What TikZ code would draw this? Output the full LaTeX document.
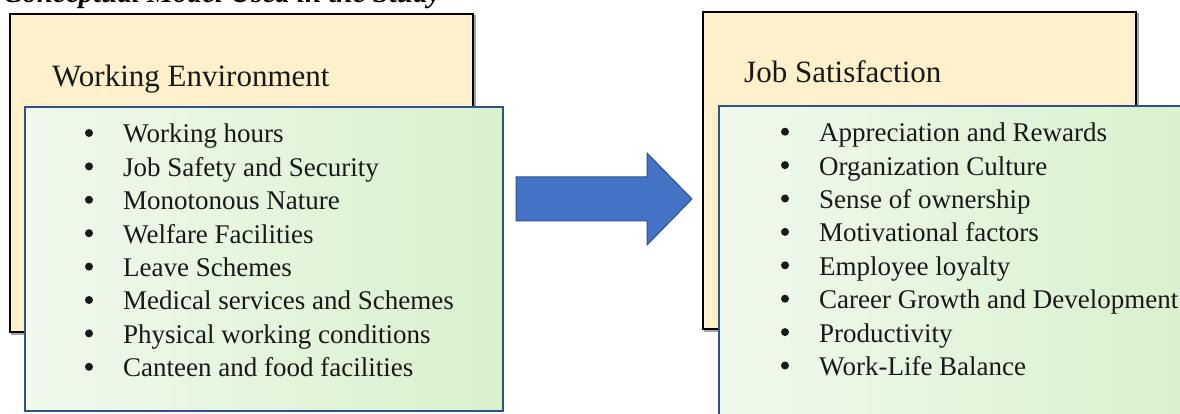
\documentclass[tikz,border=0pt]{standalone}
\usepackage{fontspec}
\setmainfont{Liberation Serif}
\definecolor{tanfill}{HTML}{FFF0CC}
\definecolor{gLight}{HTML}{F0F9EC}
\definecolor{gDark}{HTML}{D8F1CD}
\definecolor{boxblue}{HTML}{2F528F}
\definecolor{arrowblue}{HTML}{4472C4}
\begin{document}
\begin{tikzpicture}[x=1pt,y=1pt,
  tanbox/.style={draw=black,line width=2pt,fill=tanfill,anchor=north west,inner sep=0pt,outer sep=0pt},
  tanshadow/.style={draw=black!35,line width=2pt,anchor=north west,inner sep=0pt,outer sep=0pt},
  greenbox/.style={draw=boxblue,line width=2pt,left color=gLight,right color=gDark,anchor=north west,inner sep=0pt,outer sep=0pt},
  headtext/.style={anchor=base west,inner sep=0pt,text=black!90,font=\fontsize{31}{36}\selectfont},
  itemtext/.style={anchor=base west,inner sep=0pt,text=black!90,font=\fontsize{27}{33}\selectfont},
  bulletdot/.style={circle,fill=black!90,inner sep=0pt,minimum size=8pt},
  bigarrow/.style={fill=arrowblue,draw=boxblue,line width=1pt,line join=miter}
]
\useasboundingbox (0,0) rectangle (1180,414);
\clip (0,0) rectangle (1180,414);
% caption (cut off at top)
\node[anchor=base west,inner sep=0pt,font=\fontsize{29}{34}\selectfont\bfseries\itshape] (cap) at (3,411) {Conceptual Model Used in the Study};
% left group
\node[tanshadow,minimum width=463pt,minimum height=318pt] (lts) at (12,398) {};
\node[tanbox,minimum width=463pt,minimum height=318pt] (lt) at (10,400) {};
\node[headtext] (lh) at (52,327) {Working Environment};
\node[greenbox,minimum width=478pt,minimum height=304pt] (lg) at (25,307) {};
\foreach \t [count=\i] in {Working hours,Job Safety and Security,Monotonous Nature,Welfare Facilities,Leave Schemes,Medical services and Schemes,Physical working conditions,Canteen and food facilities}{
  \node[bulletdot] (lb\i) at (89,{281-33.4*(\i-1)}) {};
  \node[itemtext] (li\i) at (123,{271-33.4*(\i-1)}) {\t};
}
% right group
\node[tanshadow,minimum width=433pt,minimum height=317pt] (rts) at (705,400) {};
\node[tanbox,minimum width=433pt,minimum height=317pt] (rt) at (703,402) {};
\node[headtext] (rh) at (744,331) {Job Satisfaction};
\node[greenbox,minimum width=481pt,minimum height=330pt] (rg) at (719,308) {};
\foreach \t [count=\i] in {Appreciation and Rewards,Organization Culture,Sense of ownership,Motivational factors,Employee loyalty,Career Growth and Development,Productivity,Work-Life Balance}{
  \node[bulletdot] (rb\i) at (785,{282.3-33.4*(\i-1)}) {};
  \node[itemtext] (ri\i) at (819,{272.3-33.4*(\i-1)}) {\t};
}
% block arrow
\draw[bigarrow] (516,237) -- (647,237) -- (647,261) -- (692,215) -- (647,169) -- (647,193) -- (516,193) -- cycle;
\end{tikzpicture}
\end{document}
